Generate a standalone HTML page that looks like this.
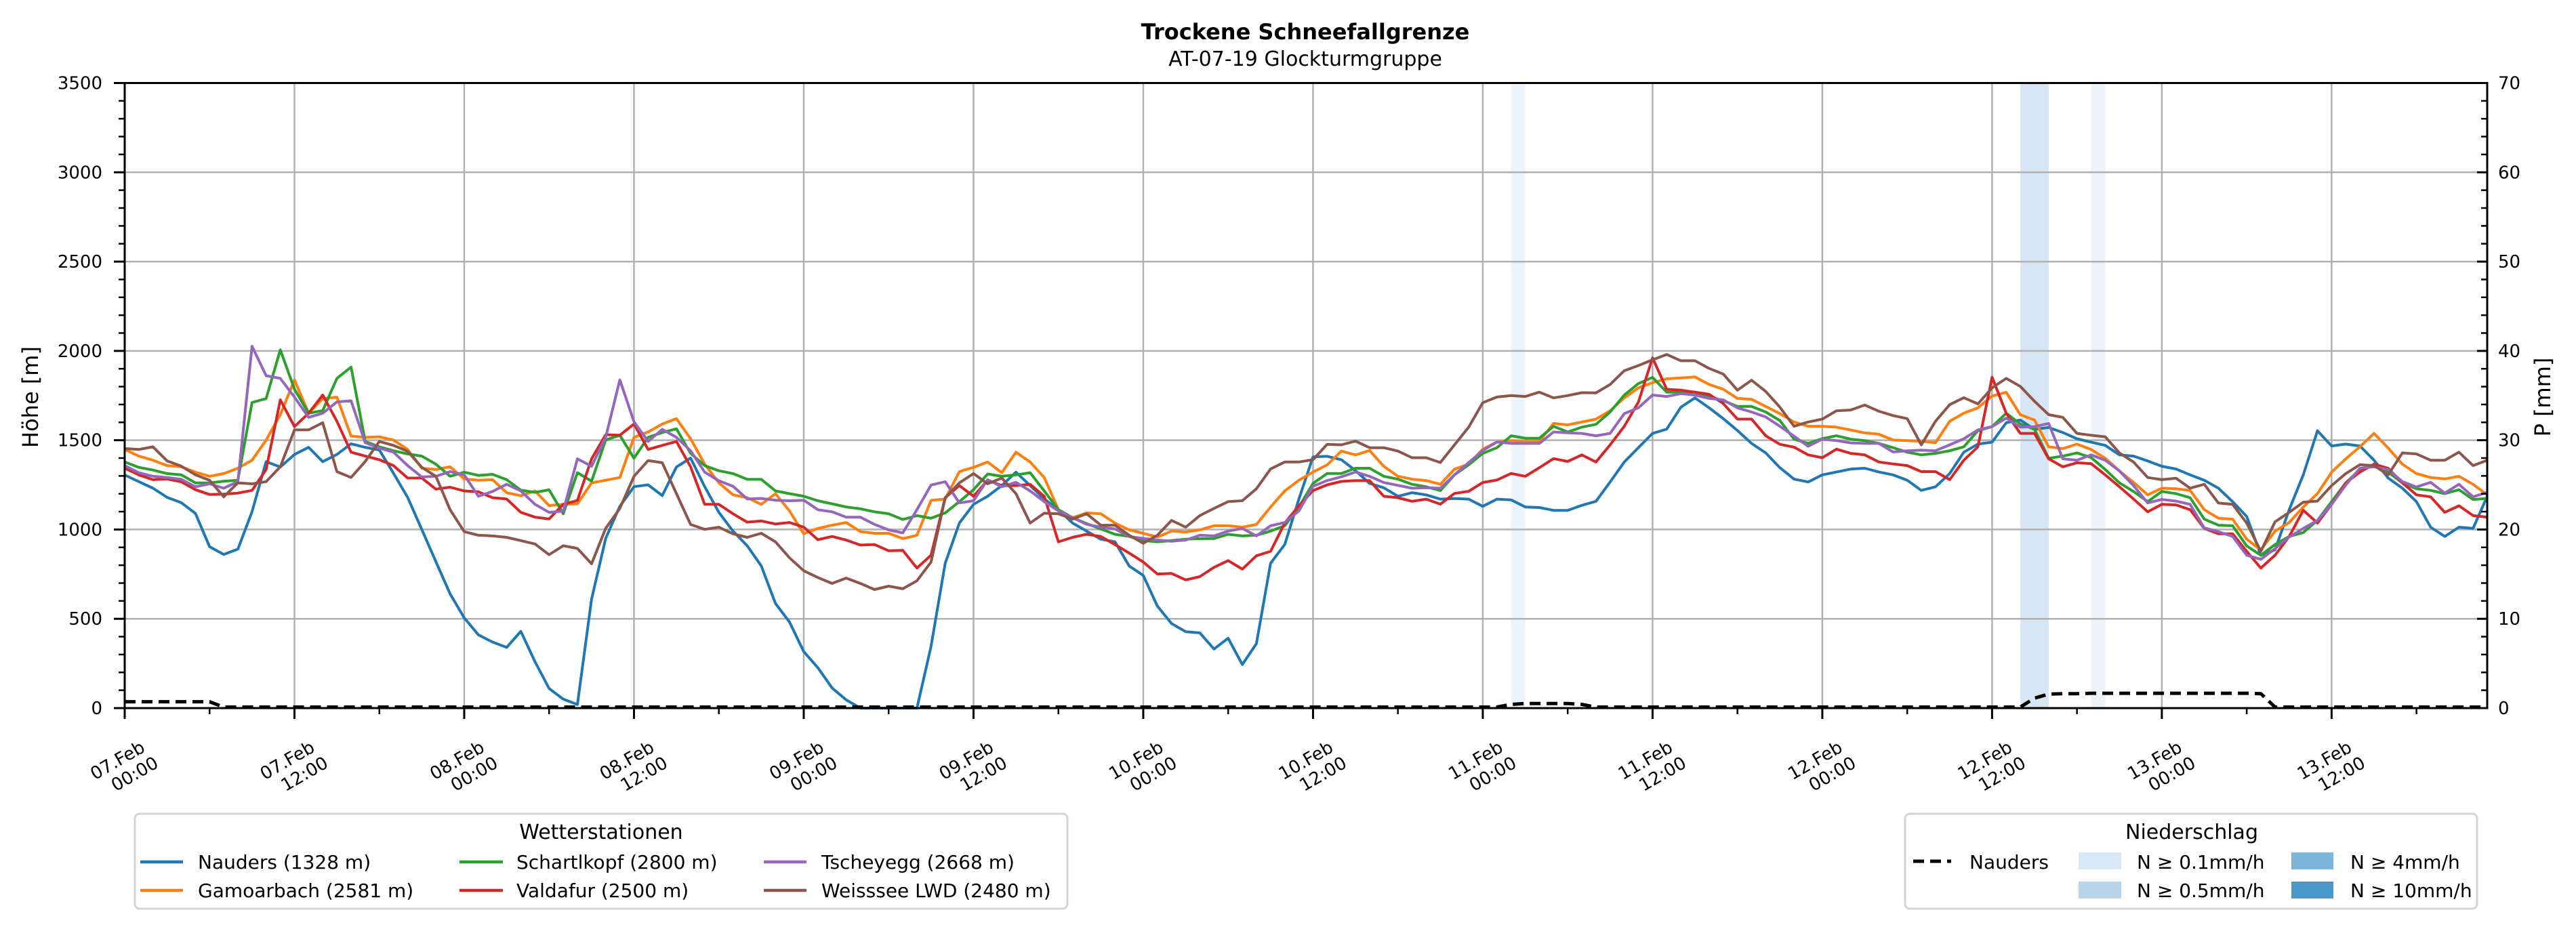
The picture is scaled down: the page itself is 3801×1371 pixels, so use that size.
<!DOCTYPE html>
<html><head><meta charset="utf-8"><title>Trockene Schneefallgrenze</title>
<style>html,body{margin:0;padding:0;background:#fff;}svg{display:block;font-family:"DejaVu Sans","Liberation Sans",sans-serif;}</style>
</head><body>
<svg id="chart" width="3801" height="1371" viewBox="0 0 3801 1371" xmlns="http://www.w3.org/2000/svg">
<rect width="3801" height="1371" fill="#fff"/>
<text x="1926" y="58" font-size="32" font-weight="bold" text-anchor="middle">Trockene Schneefallgrenze</text>
<text x="1926" y="97" font-size="30" text-anchor="middle">AT-07-19 Glockturmgruppe</text>
<g id="bands"></g>
<g id="grid"></g>
<g id="series"></g>
<g id="axes"></g>
<text x="0" y="0" font-size="32" text-anchor="middle" transform="translate(56,586) rotate(-90)">Höhe [m]</text>
<text x="0" y="0" font-size="32" text-anchor="middle" transform="translate(3763,586) rotate(-90)">P [mm]</text>

<g>
<rect x="199" y="1201" width="1376" height="140" rx="7" fill="#fff" stroke="#d4d4d4" stroke-width="3"/>
<text x="887" y="1238" font-size="30" text-anchor="middle">Wetterstationen</text>
<line x1="207" y1="1272" x2="270" y2="1272" stroke="#1f77b4" stroke-width="4.5"/>
<text x="292" y="1282" font-size="28">Nauders (1328 m)</text>
<line x1="207" y1="1314" x2="270" y2="1314" stroke="#ff7f0e" stroke-width="4.5"/>
<text x="292" y="1324" font-size="28">Gamoarbach (2581 m)</text>
<line x1="678" y1="1272" x2="742" y2="1272" stroke="#2ca02c" stroke-width="4.5"/>
<text x="762" y="1282" font-size="28">Schartlkopf (2800 m)</text>
<line x1="678" y1="1314" x2="742" y2="1314" stroke="#d62728" stroke-width="4.5"/>
<text x="762" y="1324" font-size="28">Valdafur (2500 m)</text>
<line x1="1127" y1="1272" x2="1190" y2="1272" stroke="#9467bd" stroke-width="4.5"/>
<text x="1212" y="1282" font-size="28">Tscheyegg (2668 m)</text>
<line x1="1127" y1="1314" x2="1190" y2="1314" stroke="#8c564b" stroke-width="4.5"/>
<text x="1212" y="1324" font-size="28">Weisssee LWD (2480 m)</text>
</g>

<g>
<rect x="2811" y="1201" width="844" height="140" rx="7" fill="#fff" stroke="#d4d4d4" stroke-width="3"/>
<text x="3234" y="1238" font-size="30" text-anchor="middle">Niederschlag</text>
<line x1="2823" y1="1271" x2="2879" y2="1271" stroke="#000" stroke-width="5" stroke-dasharray="16,9"/>
<text x="2906" y="1282" font-size="28">Nauders</text>
<rect x="3067" y="1258" width="63" height="25" fill="#d9e8f5"/>
<text x="3153" y="1282" font-size="28">N ≥ 0.1mm/h</text>
<rect x="3067" y="1301" width="63" height="25" fill="#b7d4ea"/>
<text x="3153" y="1324" font-size="28">N ≥ 0.5mm/h</text>
<rect x="3381" y="1258" width="62" height="25" fill="#80b6da"/>
<text x="3468" y="1282" font-size="28">N ≥ 4mm/h</text>
<rect x="3381" y="1301" width="62" height="25" fill="#4a98c9"/>
<text x="3468" y="1324" font-size="28">N ≥ 10mm/h</text>
</g>
</svg>
<script>
const nauders = [1305,1268,1231,1180,1150,1090,904,860,890,1100,1380,1350,1420,1460,1380,1420,1480,1460,1445,1315,1180,1000,820,640,505,410,370,340,430,260,110,50,20,610,950,1130,1240,1250,1190,1350,1400,1240,
1096,991,909,796,586,481,316,226,113,46,0,0,0,0,0,346,811,1036,1141,1186,1246,1321,1246,1171,1111,1036,991,946,931,796,743,571,473,428,421,331,391,244,361,811,916,1171,
1407,1410,1391,1330,1258,1234,1186,1206,1194,1170,1174,1170,1130,1170,1166,1126,1123,1107,1107,1135,1158,1266,1378,1458,1538,1562,1685,1737,1681,1621,1554,1482,1429,1346,1282,1266,1306,1322,1338,1343,1322,1306,
1276,1219,1239,1313,1433,1478,1489,1598,1613,1561,1571,1543,1508,1489,1471,1418,1411,1384,1354,1339,1306,1276,1231,1156,1073,856,886,1111,1306,1553,1468,1478,1468,1388,1288,1231,1156,1013,961,1013,1006,1186];
const gamoarbach = [1448,1411,1388,1358,1351,1321,1298,1313,1343,1388,1501,1643,1838,1651,1733,1741,1523,1516,1519,1501,1448,1343,1336,1351,1283,1276,1279,1206,1189,1216,1134,1141,1144,1261,1276,1291,1516,1546,1591,1621,1508,1366,
1261,1194,1178,1141,1201,1103,976,1006,1024,1039,988,979,979,949,968,1163,1171,1324,1348,1378,1318,1433,1378,1291,1111,1066,1093,1088,1036,998,979,958,991,986,998,1021,1021,1013,1028,1126,1216,1276,
1322,1362,1439,1418,1442,1354,1298,1282,1274,1253,1338,1365,1450,1490,1498,1493,1493,1594,1586,1602,1618,1665,1737,1793,1822,1844,1849,1854,1812,1785,1734,1729,1689,1649,1602,1578,1578,1573,1557,1541,1533,1501,
1498,1494,1486,1606,1651,1681,1748,1768,1643,1613,1463,1453,1478,1448,1399,1328,1264,1194,1231,1228,1219,1111,1063,1058,946,886,991,1039,1126,1201,1321,1396,1463,1538,1456,1366,1313,1291,1283,1298,1253,1194];
const schartlkopf = [1378,1348,1333,1313,1306,1261,1261,1270,1276,1711,1733,2006,1786,1651,1666,1846,1909,1493,1463,1441,1423,1411,1366,1298,1321,1303,1309,1279,1220,1208,1222,1088,1318,1271,1501,1528,1399,1516,1543,1564,1426,1358,
1329,1313,1281,1281,1216,1201,1186,1161,1144,1126,1116,1099,1088,1056,1078,1063,1093,1156,1223,1311,1298,1306,1318,1216,1111,1066,1033,1003,973,961,938,931,938,946,949,949,973,964,968,991,1021,1126,
1258,1314,1314,1343,1343,1298,1282,1253,1239,1218,1306,1362,1426,1458,1525,1511,1511,1578,1546,1573,1589,1658,1753,1817,1852,1769,1769,1769,1745,1721,1689,1689,1658,1610,1506,1482,1509,1525,1506,1498,1482,1458,
1433,1418,1426,1441,1463,1553,1576,1651,1591,1561,1399,1411,1429,1403,1336,1261,1213,1156,1213,1201,1178,1058,1024,1021,908,856,916,961,983,1051,1156,1261,1336,1358,1321,1261,1228,1219,1201,1223,1168,1174];
const valdafur = [1343,1306,1279,1283,1267,1223,1196,1198,1204,1219,1336,1726,1576,1651,1753,1606,1433,1411,1391,1358,1288,1288,1226,1237,1216,1211,1178,1171,1096,1069,1059,1141,1163,1396,1531,1528,1591,1448,1471,1493,1351,1141,
1141,1088,1041,1048,1031,1039,1013,943,961,941,913,916,881,883,784,856,1178,1246,1186,1276,1246,1246,1253,1186,931,956,973,961,916,868,818,751,754,718,736,788,826,778,853,878,1036,1133,
1218,1250,1269,1274,1274,1186,1178,1158,1170,1142,1202,1214,1263,1277,1314,1298,1346,1397,1381,1418,1378,1474,1578,1713,1961,1785,1780,1769,1757,1705,1618,1618,1525,1477,1461,1418,1402,1450,1426,1418,1378,1367,
1358,1324,1324,1279,1388,1463,1853,1651,1538,1538,1396,1351,1374,1369,1306,1239,1171,1099,1141,1138,1111,1006,976,976,878,784,856,961,1108,1036,1141,1261,1321,1366,1343,1261,1194,1183,1096,1133,1078,1069];
const tscheyegg = [1358,1318,1298,1291,1281,1239,1256,1231,1268,2026,1861,1846,1741,1628,1651,1714,1721,1486,1456,1433,1358,1294,1298,1324,1306,1186,1213,1253,1216,1141,1096,1103,1396,1354,1516,1838,1603,1493,1561,1516,1441,1321,
1273,1242,1171,1174,1164,1161,1164,1111,1099,1069,1069,1029,998,981,1111,1249,1268,1149,1161,1279,1239,1264,1216,1156,1104,1066,1029,1013,1003,961,950,941,934,941,968,964,991,1006,964,1021,1039,1104,
1242,1274,1295,1322,1298,1263,1247,1231,1234,1231,1306,1375,1442,1490,1482,1482,1482,1546,1541,1538,1525,1538,1649,1681,1753,1745,1761,1753,1734,1726,1681,1658,1630,1578,1522,1466,1506,1498,1485,1482,1482,1434,
1441,1444,1441,1474,1508,1558,1576,1624,1573,1576,1594,1396,1388,1418,1388,1328,1246,1149,1168,1159,1141,1009,988,961,856,833,893,958,1006,1051,1141,1249,1343,1351,1336,1268,1238,1264,1204,1253,1183,1208];
const weisssee = [1453,1448,1463,1384,1355,1306,1276,1183,1261,1256,1268,1351,1558,1558,1598,1324,1291,1381,1493,1471,1438,1348,1298,1111,988,968,964,956,938,919,859,909,894,808,1006,1118,1298,1386,1374,1201,1028,1001,
1013,976,956,979,931,841,769,731,698,728,698,664,683,668,713,818,1178,1261,1313,1256,1288,1201,1036,1091,1088,1058,1088,1024,1024,968,923,968,1051,1013,1078,1118,1156,1161,1228,1339,1378,1378,
1391,1477,1474,1495,1458,1458,1439,1402,1402,1375,1474,1573,1710,1742,1750,1745,1769,1737,1750,1766,1765,1812,1889,1918,1950,1980,1945,1945,1902,1870,1780,1836,1773,1685,1578,1602,1618,1665,1669,1697,1662,1638,
1621,1474,1606,1699,1738,1703,1793,1846,1801,1718,1643,1628,1538,1528,1519,1429,1378,1291,1279,1287,1231,1253,1148,1141,1036,878,1043,1096,1153,1159,1246,1313,1363,1358,1306,1429,1423,1388,1388,1433,1358,1388];
const precipHours = [0,1,2,3,4,5,6,7,97,98,99,100,101,102,103,104,134,135,136,137,138,139,140,141,142,143,144,145,146,147,148,149,150,151,152];
const precipValues = [0.6,0.6,0.6,0.6,0.6,0.6,0.6,0,0,0.3,0.4,0.4,0.4,0.4,0.3,0,0,1.0,1.45,1.5,1.5,1.55,1.55,1.55,1.55,1.55,1.55,1.55,1.55,1.55,1.55,1.55,1.55,1.5,0];
const bandStart = [98,134,139];
const bandEnd = [99,136,140];
const bandLevel = [0,1,0];
const yTicks = [0,500,1000,1500,2000,2500,3000,3500];
const y2Ticks = [0,10,20,30,40,50,60,70];
const xTickLabels = [["07.Feb","00:00"],["07.Feb","12:00"],["08.Feb","00:00"],["08.Feb","12:00"],["09.Feb","00:00"],["09.Feb","12:00"],["10.Feb","00:00"],["10.Feb","12:00"],["11.Feb","00:00"],["11.Feb","12:00"],["12.Feb","00:00"],["12.Feb","12:00"],["13.Feb","00:00"],["13.Feb","12:00"]];

const NS='http://www.w3.org/2000/svg';
const L=184,R=3670,T=122.5,B=1045,HMAX=167;
const xs=h=>L+h*(R-L)/HMAX;
const ys=v=>B-v*(B-T)/3500;
const ys2=p=>B-p*(B-T)/70;
function mk(tag,attrs,parent){const e=document.createElementNS(NS,tag);for(const k in attrs)e.setAttribute(k,attrs[k]);parent.appendChild(e);return e;}
const gB=document.getElementById('bands'),gG=document.getElementById('grid'),gS=document.getElementById('series'),gA=document.getElementById('axes');
const bandColors=['#edf3fb','#d6e6f4'];
bandStart.forEach((s,i)=>{const r=mk('rect',{x:xs(s),y:T,width:xs(bandEnd[i])-xs(s),height:B-T,fill:bandColors[bandLevel[i]]},gB);

});
xTickLabels.forEach((t,i)=>{const x=xs(i*12);const l=mk('line',{x1:x,y1:T,x2:x,y2:B,stroke:'#b0b0b0','stroke-width':2.5},gG);

});
yTicks.forEach(v=>{const y=ys(v);const l=mk('line',{x1:L,y1:y,x2:R,y2:y,stroke:'#b0b0b0','stroke-width':2.5},gG);

});
const series=[[nauders,'#1f77b4','line-nauders'],[gamoarbach,'#ff7f0e','line-gamoarbach'],[schartlkopf,'#2ca02c','line-schartlkopf'],[valdafur,'#d62728','line-valdafur'],[tscheyegg,'#9467bd','line-tscheyegg'],[weisssee,'#8c564b','line-weisssee']];
series.forEach(([d,c,n])=>{const pts=d.map((v,i)=>xs(i).toFixed(1)+','+ys(v).toFixed(1)).join(' ');
const p=mk('polyline',{points:pts,fill:'none',stroke:c,'stroke-width':4,'stroke-linejoin':'round'},gS);

});
const pv=[];for(let h=0;h<=HMAX;h++){const k=precipHours.indexOf(h);pv.push(k>=0?precipValues[k]:0);}
const pp=mk('polyline',{points:pv.map((v,i)=>xs(i).toFixed(1)+','+(ys2(v)-1.5).toFixed(1)).join(' '),fill:'none',stroke:'#000','stroke-width':5,'stroke-dasharray':'16,9'},gS);


mk('rect',{x:L,y:T,width:R-L,height:B-T,fill:'none',stroke:'#000','stroke-width':3},gA);
for(let v=0;v<=3500;v+=100){const y=ys(v);const maj=v%500===0;mk('line',{x1:L-(maj?16:9),y1:y,x2:L,y2:y,stroke:'#000','stroke-width':maj?3:2.5},gA);}
yTicks.forEach(v=>{const t=mk('text',{x:151,y:ys(v)+9,'font-size':26,'text-anchor':'end'},gA);t.textContent=v;

});
for(let p=0;p<=70;p+=2){const y=ys2(p);const maj=p%10===0;mk('line',{x1:R-(maj?15:9),y1:y,x2:R,y2:y,stroke:'#000','stroke-width':maj?3:2.5},gA);}
y2Ticks.forEach(p=>{const t=mk('text',{x:3686,y:ys2(p)+9,'font-size':26,'text-anchor':'start'},gA);t.textContent=p;

});
for(let h=0;h<=HMAX;h+=6){const x=xs(h);const maj=h%12===0;mk('line',{x1:x,y1:B,x2:x,y2:B+(maj?16:9),stroke:'#000','stroke-width':maj?3:2.5},gA);}
xTickLabels.forEach((t,i)=>{const x=xs(i*12);const g=mk('g',{transform:'translate('+(x+2)+',1132) rotate(-30)'},gA);


const a=mk('text',{x:-6,y:-6,'font-size':26,'text-anchor':'middle'},g);a.textContent=t[0];
const b=mk('text',{x:6,y:24,'font-size':26,'text-anchor':'middle'},g);b.textContent=t[1];});
</script>
</body></html>
